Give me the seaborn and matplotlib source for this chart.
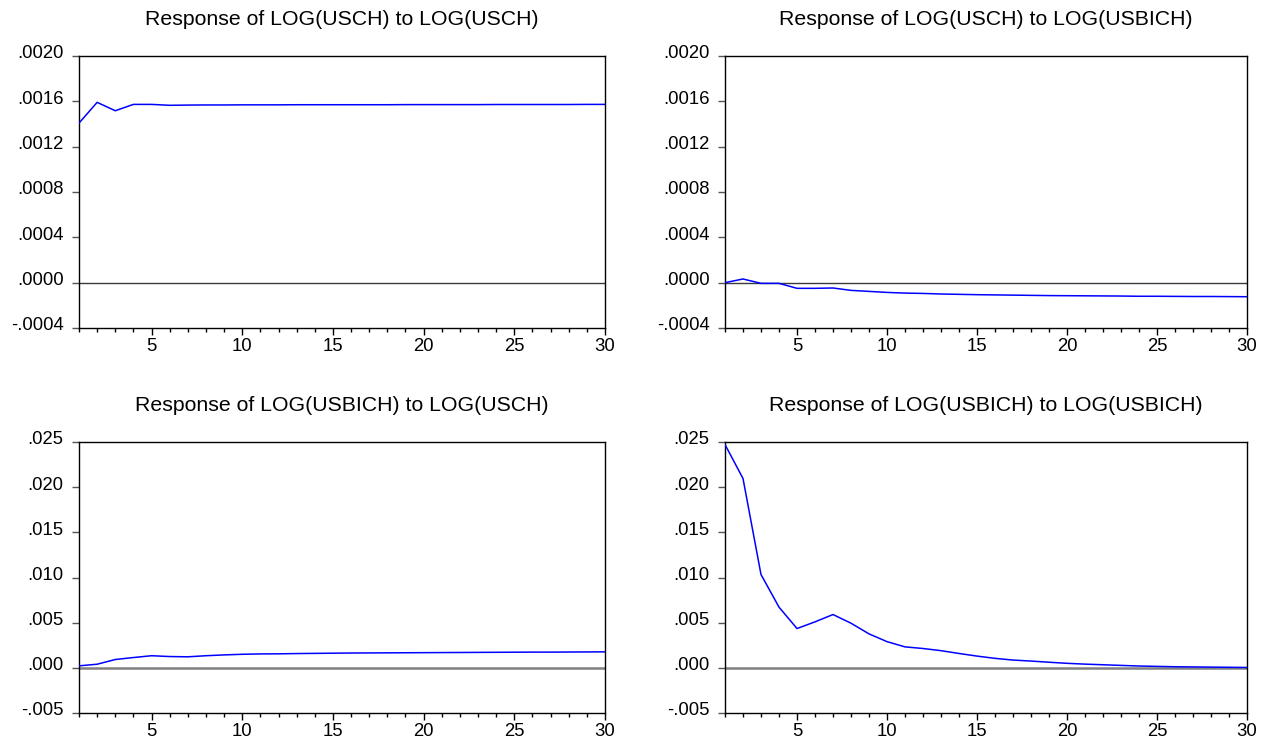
import numpy as np
import pandas as pd
import matplotlib
matplotlib.use("Agg")
import matplotlib.pyplot as plt
import matplotlib.transforms as mtransforms
from matplotlib.ticker import MultipleLocator, FixedLocator, FixedFormatter
import seaborn as sns

# ---------------- data ----------------
periods = list(range(1, 31))

titles = [
    "Response of LOG(USCH) to LOG(USCH)",
    "Response of LOG(USCH) to LOG(USBICH)",
    "Response of LOG(USBICH) to LOG(USCH)",
    "Response of LOG(USBICH) to LOG(USBICH)",
]

usch_to_usch = [0.001408, 0.001591, 0.001517, 0.001573, 0.001573, 0.001565, 0.001567, 0.001568,
                0.001568, 0.001569, 0.001569, 0.001569, 0.001570, 0.001570, 0.001570, 0.001570,
                0.001570, 0.001570, 0.001571, 0.001571, 0.001571, 0.001571, 0.001571, 0.001572,
                0.001572, 0.001572, 0.001572, 0.001572, 0.001573, 0.001573]

usch_to_usbich = [0.0, 0.0000325, -0.000006, -0.000006, -0.00005, -0.00005, -0.000047, -0.000068,
                  -0.000077, -0.000086, -0.000092, -0.000095, -0.0001, -0.000103, -0.000106,
                  -0.000108, -0.00011, -0.000112, -0.000114, -0.000115, -0.000116, -0.000117,
                  -0.000118, -0.00012, -0.00012, -0.000121, -0.000122, -0.000122, -0.000123, -0.000124]

usbich_to_usch = [0.00022, 0.0004, 0.00092, 0.00114, 0.00134, 0.00125, 0.00122, 0.00134, 0.00143,
                  0.0015, 0.00154, 0.00155, 0.00158, 0.0016, 0.00162, 0.00164, 0.00165, 0.00166,
                  0.00167, 0.00168, 0.00169, 0.0017, 0.00171, 0.00172, 0.00173, 0.00174, 0.00174,
                  0.00175, 0.00176, 0.00177]

usbich_to_usbich = [0.02472, 0.02096, 0.01033, 0.00672, 0.00435, 0.00509, 0.0059, 0.00494, 0.00376,
                    0.0029, 0.00232, 0.00214, 0.0019, 0.00159, 0.0013, 0.00105, 0.00086, 0.00075,
                    0.00062, 0.0005, 0.00041, 0.00034, 0.00027, 0.0002, 0.00016, 0.00012, 0.0001,
                    0.00008, 0.00006, 0.00004]

series = [usch_to_usch, usch_to_usbich, usbich_to_usch, usbich_to_usbich]

top_yticks = [-0.0004, 0.0, 0.0004, 0.0008, 0.0012, 0.0016, 0.0020]
top_ylabels = ["-.0004", ".0000", ".0004", ".0008", ".0012", ".0016", ".0020"]
bot_yticks = [-0.005, 0.0, 0.005, 0.010, 0.015, 0.020, 0.025]
bot_ylabels = ["-.005", ".000", ".005", ".010", ".015", ".020", ".025"]
xticks = [5, 10, 15, 20, 25, 30]
xlabels = ["5", "10", "15", "20", "25", "30"]

# ---------------- style ----------------
sns.set_style("white")
plt.rcParams["font.family"] = ["Liberation Sans", "DejaVu Sans"]
plt.rcParams["text.color"] = "black"
plt.rcParams["axes.titlecolor"] = "black"

W, H = 1270, 740
fig = plt.figure(figsize=(W / 100, H / 100), dpi=100)
fig.patch.set_facecolor("white")

boxes = [
    (79, 56, 605, 328),
    (725, 56, 1247, 328),
    (79, 442, 605, 713),
    (725, 442, 1247, 713),
]

for i, (x0, y0, x1, y1) in enumerate(boxes):
    ax = fig.add_axes([x0 / W, (H - y1) / H, (x1 - x0) / W, (y1 - y0) / H])
    df = pd.DataFrame({"period": periods, "value": series[i]})
    top = i < 2
    if top:
        ax.axhline(0, color="#3a3a3a", lw=1.0, zorder=1)
    else:
        ax.axhline(0, color="#808080", lw=1.8, zorder=1)
    sns.lineplot(data=df, x="period", y="value", ax=ax, color="#0000FF", lw=1.1, zorder=3)
    ax.set_xlim(1, 30)
    if top:
        ax.set_ylim(-0.0004, 0.0020)
        ax.yaxis.set_major_locator(FixedLocator(top_yticks))
        ax.yaxis.set_major_formatter(FixedFormatter(top_ylabels))
    else:
        ax.set_ylim(-0.005, 0.025)
        ax.yaxis.set_major_locator(FixedLocator(bot_yticks))
        ax.yaxis.set_major_formatter(FixedFormatter(bot_ylabels))
    ax.xaxis.set_major_locator(FixedLocator(xticks))
    ax.xaxis.set_major_formatter(FixedFormatter(xlabels))
    ax.xaxis.set_minor_locator(MultipleLocator(1))
    ax.set_xlabel("")
    ax.set_ylabel("")
    for s in ax.spines.values():
        s.set_color("black")
        s.set_linewidth(1.0)
        s.set_visible(True)
    ax.tick_params(axis="y", which="major", direction="out", length=5, width=1,
                   color="#555555", labelcolor="black", labelsize=13.3, pad=6,
                   left=True, right=False)
    ax.tick_params(axis="x", which="major", direction="out", length=5, width=1,
                   color="black", labelcolor="black", labelsize=13.3, pad=2,
                   bottom=True, top=False)
    ax.tick_params(axis="x", which="minor", direction="out", length=3, width=1,
                   color="black", bottom=True, top=False)
    offset = mtransforms.ScaledTranslation(0, 3 / 72, fig.dpi_scale_trans)
    for lab in ax.get_yticklabels():
        lab.set_transform(lab.get_transform() + offset)
    ax.set_title(titles[i], fontsize=15.3, pad=22, color="black")
    if ax.get_legend() is not None:
        ax.get_legend().remove()

fig.savefig("out.png", dpi=100, facecolor="white")
